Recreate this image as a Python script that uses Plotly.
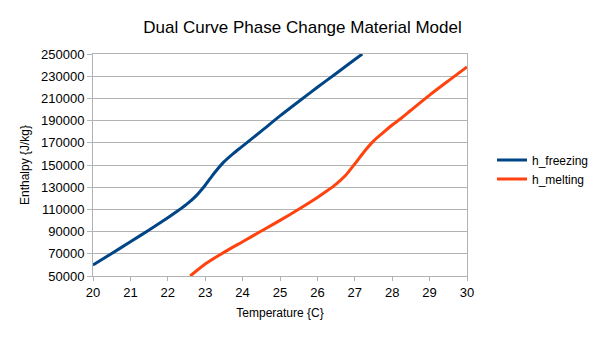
import plotly.graph_objects as go

freeze_t = [20.0, 20.5, 21.0, 21.5, 22.0, 22.25, 22.5, 22.75, 23.0, 23.25, 23.5, 23.75, 24.0, 24.5, 25.0, 25.5, 26.0, 26.5, 27.0, 27.2]
freeze_h = [60000, 70300, 80800, 91500, 102500, 108300, 114500, 122000, 131800, 143000, 152800, 160300, 167000, 180500, 194200, 207200, 220000, 232500, 245000, 250000]

melt_t = [22.6, 23.0, 23.5, 24.0, 24.5, 25.0, 25.5, 26.0, 26.25, 26.5, 26.75, 27.0, 27.25, 27.5, 27.75, 28.0, 28.25, 28.5, 29.0, 29.5, 30.0]
melt_h = [50000, 60800, 71300, 80900, 90500, 100100, 110200, 120800, 126500, 132800, 140500, 151000, 162000, 171500, 178900, 186000, 192300, 199300, 213000, 225800, 238300]

title = "Dual Curve Phase Change Material Model"
x_title = "Temperature {C}"
y_title = "Enthalpy {J/kg}"

fig = go.Figure()
fig.add_trace(go.Scatter(x=freeze_t, y=freeze_h, mode="lines", name="h_freezing",
                         line=dict(color="#004586", width=3, shape="spline", smoothing=0.8)))
fig.add_trace(go.Scatter(x=melt_t, y=melt_h, mode="lines", name="h_melting",
                         line=dict(color="#ff420e", width=3, shape="spline", smoothing=0.8)))

fig.update_layout(
    width=605, height=340,
    margin=dict(l=93, r=137, t=54, b=64),
    paper_bgcolor="white", plot_bgcolor="white",
    font=dict(family="Liberation Sans, Arial, sans-serif", color="#000000", size=12),
    title=dict(text=title, x=0.5, xanchor="center", y=1 - 27 / 340, yanchor="middle",
               font=dict(size=17, color="#000000")),
    showlegend=True,
    legend=dict(x=1.064, xanchor="left", xref="paper", y=0.48, yanchor="middle",
                font=dict(size=12), itemwidth=30, bgcolor="rgba(0,0,0,0)",
                tracegroupgap=0),
)
fig.update_xaxes(range=[20, 30], dtick=1, tick0=20, showgrid=False,
                 showline=True, linecolor="#b3b3b3", linewidth=1, mirror=True,
                 ticks="outside", ticklen=4, tickcolor="#b3b3b3",
                 tickfont=dict(size=13), zeroline=False,
                 title=dict(text=x_title, font=dict(size=12), standoff=10))
fig.update_yaxes(range=[50000, 250000], dtick=20000, tick0=50000, showgrid=True,
                 gridcolor="#b3b3b3", gridwidth=1,
                 showline=True, linecolor="#b3b3b3", linewidth=1, mirror=True,
                 ticks="outside", ticklen=5, tickcolor="#b3b3b3",
                 tickfont=dict(size=13), zeroline=False, tickformat="d",
                 title=dict(text=y_title, font=dict(size=12), standoff=8))

fig.write_html("out.html")
